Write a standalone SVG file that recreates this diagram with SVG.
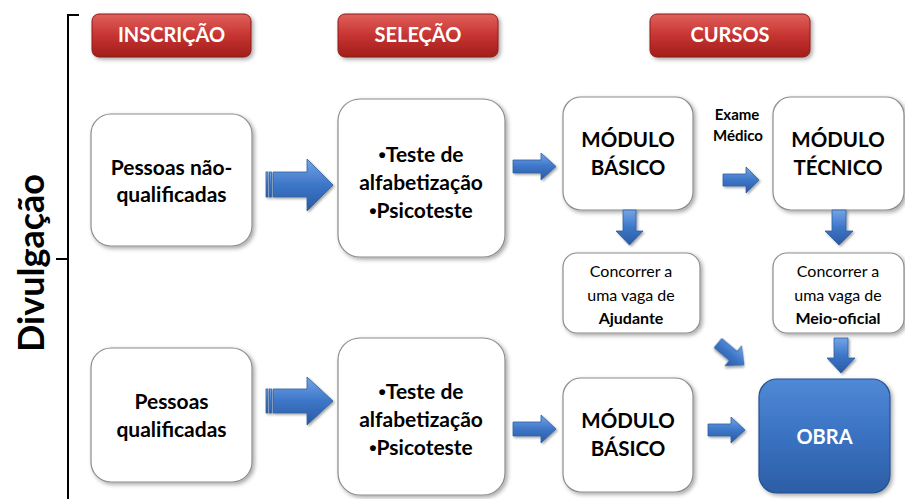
<svg xmlns="http://www.w3.org/2000/svg" width="905" height="499" viewBox="0 0 905 499">
<defs>
<linearGradient id="red" x1="0" y1="0" x2="0" y2="1">
<stop offset="0" stop-color="#e0605b"/>
<stop offset="0.5" stop-color="#c63431"/>
<stop offset="1" stop-color="#a11e1b"/>
</linearGradient>
<linearGradient id="blue" x1="0" y1="0" x2="0" y2="1">
<stop offset="0" stop-color="#74a4e6"/>
<stop offset="0.5" stop-color="#3d76c8"/>
<stop offset="1" stop-color="#2a5aa2"/>
</linearGradient>
<linearGradient id="obra" x1="0" y1="0" x2="0" y2="1">
<stop offset="0" stop-color="#5089d6"/>
<stop offset="0.5" stop-color="#3a72c2"/>
<stop offset="1" stop-color="#2c5ea6"/>
</linearGradient>
<filter id="sh" x="-10%" y="-10%" width="125%" height="125%">
<feDropShadow dx="2" dy="2" stdDeviation="2" flood-color="#000" flood-opacity="0.35"/>
</filter>
<filter id="sha" x="-20%" y="-20%" width="150%" height="150%">
<feDropShadow dx="1.5" dy="1.5" stdDeviation="1.2" flood-color="#000" flood-opacity="0.35"/>
</filter>
</defs>
<style>
text{font-family:Lato,"Liberation Sans",sans-serif;text-anchor:middle;}
.hdr{fill:url(#red);stroke:#8e1a17;stroke-width:1;filter:url(#sh);}
.ht{fill:#fff;font-weight:bold;font-size:20px;}
.box{fill:#fff;stroke:#8c8c8c;stroke-width:1.2;filter:url(#sh);}
.bt{fill:#000;font-weight:bold;font-size:21px;}
.mt{fill:#000;font-weight:bold;font-size:20.5px;}
.st{fill:#000;font-size:16px;}
.sb{font-weight:bold;}
.bul{font-family:"Liberation Sans",sans-serif;}
.ex{fill:#000;font-weight:bold;font-size:15px;}
.arr{fill:url(#blue);stroke:#2f5f9f;stroke-width:0.8;filter:url(#sha);}
.brk{fill:none;stroke:#000;stroke-width:2;}
</style>

<g id="bracket">
<path class="brk" d="M79,15 H68 V499 M68,259 H56"/>
<text x="0" y="0" transform="translate(44,263) rotate(-90)" style="font-weight:bold;font-size:36px;fill:#000">Divulgação</text>
</g>

<g id="h-inscricao"><rect class="hdr" x="92" y="14" width="159" height="43" rx="7"/><text class="ht" x="171.5" y="42">INSCRIÇÃO</text></g>
<g id="h-selecao"><rect class="hdr" x="338" y="14" width="160" height="43" rx="7"/><text class="ht" x="418" y="42">SELEÇÃO</text></g>
<g id="h-cursos"><rect class="hdr" x="650" y="14" width="160" height="43" rx="7"/><text class="ht" x="730" y="42">CURSOS</text></g>

<g id="n-pessoas-nao"><rect class="box" x="91" y="114" width="161" height="132" rx="20"/><text class="bt" x="171.5" y="175">Pessoas não-</text><text class="bt" x="171.5" y="202">qualificadas</text></g>
<g id="n-selecao1"><rect class="box" x="338" y="99" width="167" height="158" rx="22"/><text class="bt" x="421" y="162"><tspan class="bul">•</tspan>Teste de</text><text class="bt" x="421" y="190">alfabetização</text><text class="bt" x="421" y="218"><tspan class="bul">•</tspan>Psicoteste</text></g>
<g id="n-basico1"><rect class="box" x="563" y="97" width="130" height="113" rx="18"/><text class="mt" x="628" y="147">MÓDULO</text><text class="mt" x="628" y="175">BÁSICO</text></g>
<g id="exame"><text class="ex" x="737" y="120">Exame</text><text class="ex" x="738" y="141">Médico</text></g>
<g id="n-tecnico"><rect class="box" x="773" y="97" width="131" height="113" rx="18"/><text class="mt" x="838" y="147">MÓDULO</text><text class="mt" x="838" y="175">TÉCNICO</text></g>
<g id="n-ajudante"><rect class="box" x="563" y="253" width="137" height="80" rx="14"/><text class="st" x="631" y="277">Concorrer a</text><text class="st" x="631" y="301">uma vaga de</text><text class="st sb" x="631" y="324">Ajudante</text></g>
<g id="n-meio"><rect class="box" x="773" y="253" width="131" height="80" rx="14"/><text class="st" x="838" y="277">Concorrer a</text><text class="st" x="838" y="301">uma vaga de</text><text class="st sb" x="838" y="324">Meio-oficial</text></g>

<g id="n-pessoas-qual"><rect class="box" x="91" y="348" width="161" height="134" rx="20"/><text class="bt" x="171.5" y="409">Pessoas</text><text class="bt" x="171.5" y="437">qualificadas</text></g>
<g id="n-selecao2"><rect class="box" x="338" y="338" width="167" height="157" rx="22"/><text class="bt" x="421" y="399"><tspan class="bul">•</tspan>Teste de</text><text class="bt" x="421" y="427">alfabetização</text><text class="bt" x="421" y="455"><tspan class="bul">•</tspan>Psicoteste</text></g>
<g id="n-basico2"><rect class="box" x="563" y="378" width="130" height="114" rx="18"/><text class="mt" x="628" y="428">MÓDULO</text><text class="mt" x="628" y="456">BÁSICO</text></g>
<g id="n-obra"><rect x="759" y="379" width="131" height="114" rx="18" style="fill:url(#obra);stroke:#24508f;stroke-width:1.2;filter:url(#sh)"/><text x="824.5" y="444" style="fill:#fff;font-weight:bold;font-size:20px">OBRA</text></g>

<g id="connectors">
<g class="arr">
<rect x="266" y="172" width="2" height="25"/><rect x="269.5" y="172" width="2" height="25"/>
<path d="M273,172 H307 V159 L333,185 L307,211 V197 H273 Z"/>
</g>
<g class="arr">
<rect x="266" y="389" width="2" height="24"/><rect x="269.5" y="389" width="2" height="24"/>
<path d="M273,389 H307 V377 L333,401 L307,425 V413 H273 Z"/>
</g>
<path class="arr" d="M513,160 H541 V153 L556,166.5 L541,180 V173 H513 Z"/>
<path class="arr" d="M723,174 H746 V167 L759,180 L746,193 V186 H723 Z"/>
<path class="arr" d="M623,210 V231 H616 L629.5,245 L643,231 H636 V210 Z"/>
<path class="arr" d="M832,210 V231 H825 L839,245 L853,231 H846 V210 Z"/>
<path class="arr" d="M-17,-6 H3 V-13 L17,0 L3,13 V6 H-17 Z" transform="translate(731,354) rotate(40)"/>
<path class="arr" d="M834,338 V358 H827 L841,373 L855,358 H848 V338 Z"/>
<path class="arr" d="M513,422 H541 V415 L556,429 L541,443 V436 H513 Z"/>
<path class="arr" d="M708,424 H731 V417 L745,430 L731,443 V436 H708 Z"/>
</g>
</svg>
